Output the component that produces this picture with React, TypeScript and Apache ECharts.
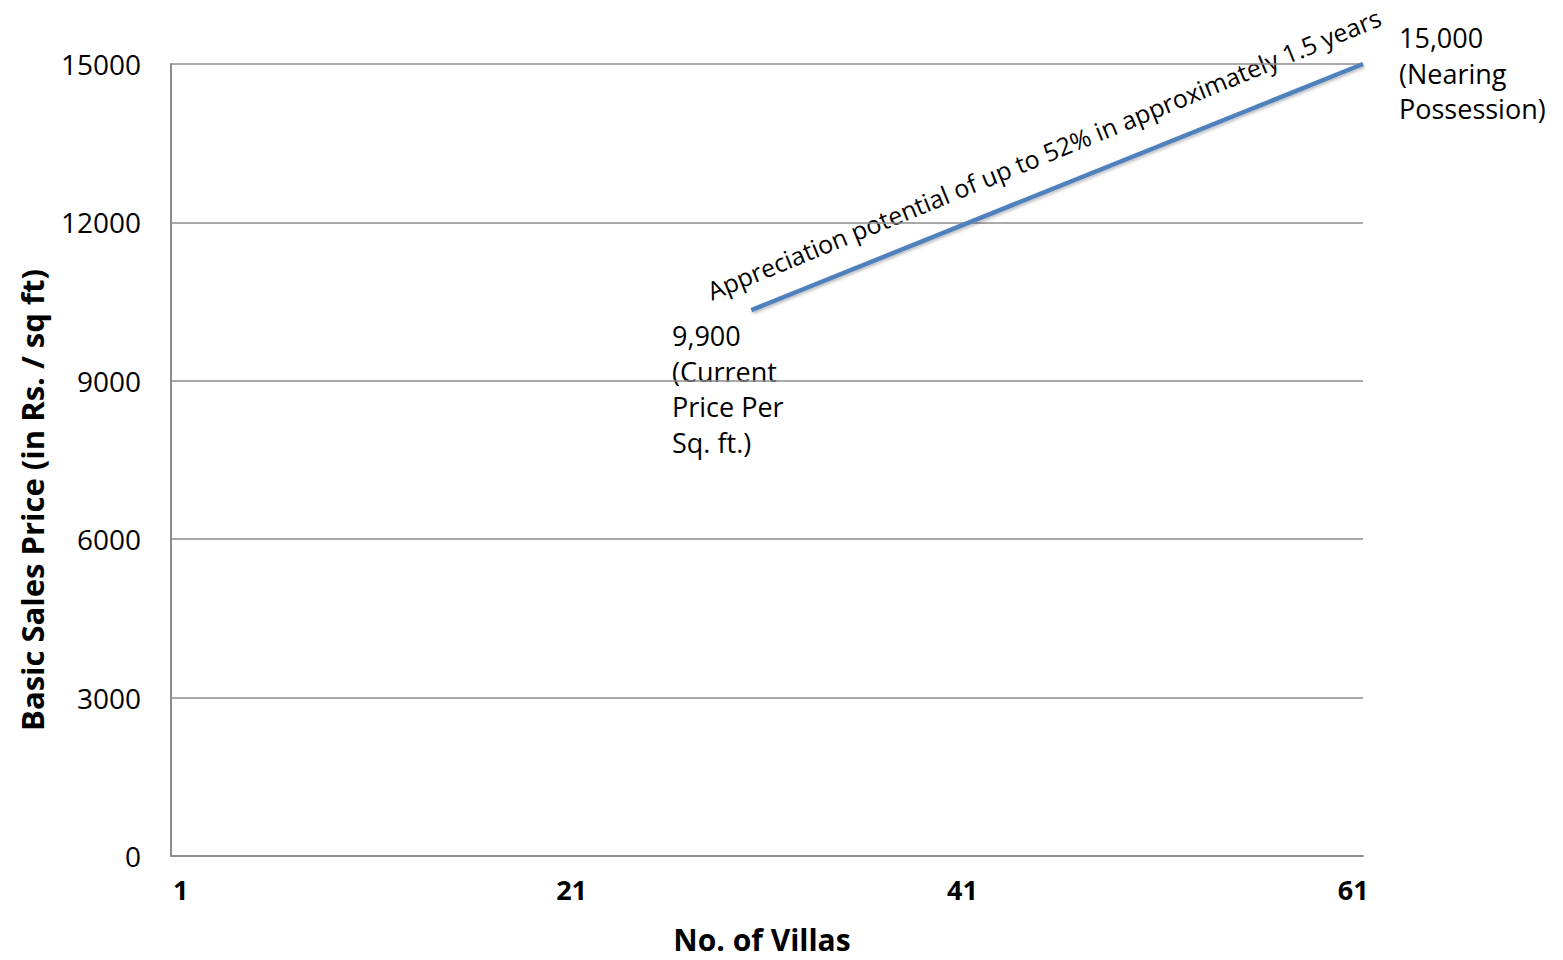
import React, { useEffect, useRef } from "react";
import * as echarts from "echarts";

const villaCategories: string[] = Array.from({ length: 61 }, (_, i) => String(i + 1));
const shownLabels = ["1", "21", "41", "61"];
const yTicks = [0, 3000, 6000, 9000, 12000, 15000];
const lineX = [30.2, 61.5];
const lineY = [10340, 15000];
const startNote = "9,900\n(Current\nPrice Per\nSq. ft.)";
const endNote = "15,000\n(Nearing\nPossession)";
const slopeNote = "Appreciation potential of up to 52% in approximately 1.5 years";
const xTitle = "No. of Villas";
const yTitle = "Basic Sales Price (in Rs. / sq ft)";

const FONT = "'Open Sans', 'Noto Sans', sans-serif";

export default function App() {
  const ref = useRef<HTMLDivElement>(null);
  useEffect(() => {
    if (!ref.current) return;
    const chart = echarts.init(ref.current, undefined, { renderer: "svg" });
    chart.setOption({
      animation: false,
      backgroundColor: "#ffffff",
      textStyle: { fontFamily: FONT },
      grid: { left: 171, right: 200, top: 64, bottom: 104, containLabel: false },
      xAxis: [
        {
          type: "category",
          data: villaCategories,
          boundaryGap: true,
          axisLine: { show: true, lineStyle: { color: "#8c8c8c", width: 2 } },
          axisTick: { show: false },
          splitLine: { show: false },
          axisLabel: {
            interval: (_i: number, v: string) => shownLabels.includes(v),
            margin: 20,
            fontFamily: FONT,
            fontSize: 27,
            fontWeight: "bold",
            color: "#000",
          },
        },
        {
          type: "value",
          min: 0.5,
          max: 61.5,
          show: false,
        },
      ],
      yAxis: {
        type: "value",
        min: 0,
        max: 15000,
        interval: 3000,
        axisLine: { show: true, lineStyle: { color: "#8c8c8c", width: 2 } },
        axisTick: { show: false },
        splitLine: { show: true, lineStyle: { color: "#8c8c8c", width: 1.5 } },
        axisLabel: {
          margin: 30,
          fontFamily: FONT,
          fontSize: 28,
          color: "#000",
          formatter: (v: number) => (yTicks.includes(v) ? String(v) : ""),
        },
      },
      series: [
        {
          type: "line",
          xAxisIndex: 1,
          data: lineX.map((x, i) => [x, lineY[i]]),
          symbol: "none",
          lineStyle: {
            color: "#4F81BD",
            width: 4.5,
            shadowColor: "rgba(0,0,0,0.25)",
            shadowBlur: 3,
            shadowOffsetX: 1,
            shadowOffsetY: 2,
          },
        },
      ],
      graphic: [
        {
          type: "text",
          x: 672,
          y: 318,
          style: {
            text: startNote,
            font: `27px ${FONT}`,
            fill: "#000",
            lineHeight: 35.5,
            textAlign: "left",
            textVerticalAlign: "top",
          },
        },
        {
          type: "text",
          x: 1399,
          y: 20,
          style: {
            text: endNote,
            font: `27px ${FONT}`,
            fill: "#000",
            lineHeight: 35.5,
            textAlign: "left",
            textVerticalAlign: "top",
          },
        },
        {
          type: "text",
          x: 713,
          y: 303,
          rotation: 0.39,
          style: {
            text: slopeNote,
            font: `25px ${FONT}`,
            fill: "#000",
            textAlign: "left",
            textVerticalAlign: "bottom",
          },
        },
        {
          type: "text",
          x: 762,
          y: 939,
          style: {
            text: xTitle,
            font: `bold 30px ${FONT}`,
            fill: "#000",
            textAlign: "center",
            textVerticalAlign: "middle",
          },
        },
        {
          type: "text",
          x: 32,
          y: 500,
          rotation: Math.PI / 2,
          style: {
            text: yTitle,
            font: `bold 31px ${FONT}`,
            fill: "#000",
            textAlign: "center",
            textVerticalAlign: "middle",
          },
        },
      ],
    });
    return () => chart.dispose();
  }, []);
  return (
    <div
      ref={ref}
      style={{ position: "fixed", left: 0, top: 0, width: 1563, height: 960, background: "#fff" }}
    />
  );
}
